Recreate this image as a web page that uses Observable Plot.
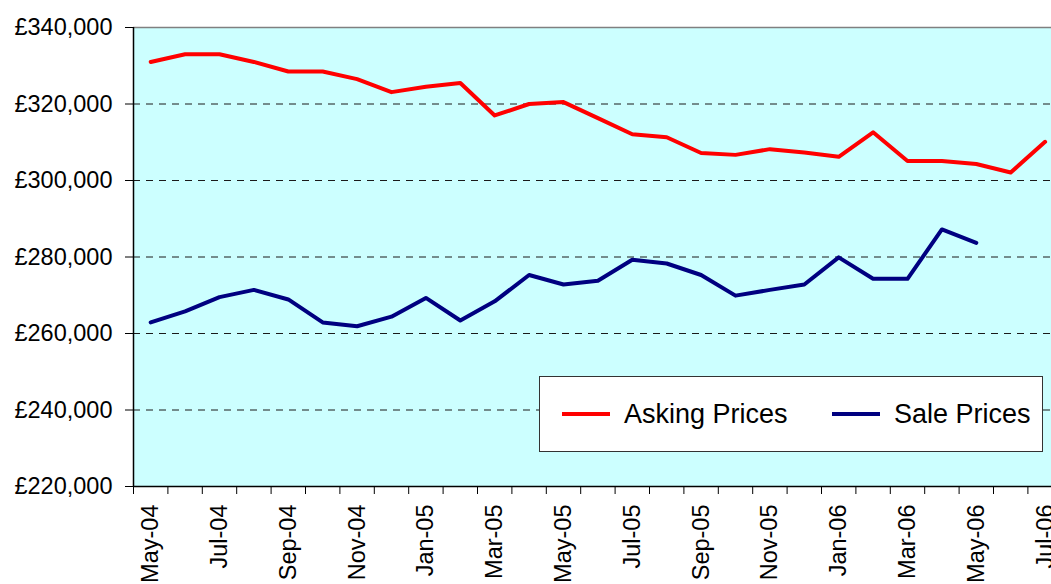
<!DOCTYPE html>
<html>
<head>
<meta charset="utf-8">
<script src="https://cdn.jsdelivr.net/npm/d3@7"></script>
<script src="https://cdn.jsdelivr.net/npm/@observablehq/plot@0.6"></script>
<style>
  html, body { margin: 0; padding: 0; background: white; }
  #wrap { position: relative; width: 1051px; height: 584px; overflow: hidden; font-family: "Liberation Sans", Arial, sans-serif; }
  #legend { position: absolute; left: 539px; top: 376px; width: 504px; height: 76px; background: white; border: 1.5px solid #333; box-sizing: border-box; }
  .item { position: absolute; top: 0; height: 100%; display: flex; align-items: center; font-size: 27px; color: black; }
  .sw { display: inline-block; width: 48px; height: 4px; margin-right: 14px; }
</style>
</head>
<body>
<div id="wrap"></div>
<script>
const months = ["May-04","Jun-04","Jul-04","Aug-04","Sep-04","Oct-04","Nov-04","Dec-04","Jan-05","Feb-05","Mar-05","Apr-05","May-05","Jun-05","Jul-05","Aug-05","Sep-05","Oct-05","Nov-05","Dec-05","Jan-06","Feb-06","Mar-06","Apr-06","May-06","Jun-06","Jul-06"];
const askingPrices = [331000,333000,333000,331000,328500,328500,326500,323100,324500,325500,317000,320000,320500,316300,312100,311300,307200,306700,308200,307300,306200,312600,305100,305100,304300,302100,310100];
const salePrices = [262900,265800,269500,271400,268900,262900,261900,264400,269300,263400,268400,275300,272800,273800,279300,278300,275300,269900,271400,272800,279900,274300,274300,287200,283700,null,null];
const yTicks = [220000,240000,260000,280000,300000,320000,340000];
const seriesNames = ["Asking Prices","Sale Prices"];
const seriesColors = ["#FF0000","#000080"];

const idx = months.map((m, i) => i);
const fmt = d => "£" + d3.format(",")(d);

const chart = Plot.plot({
  width: 1051,
  height: 584,
  marginLeft: 133,
  marginRight: 0,
  marginTop: 27,
  marginBottom: 98,
  style: { fontFamily: "'Liberation Sans', Arial, sans-serif", fontSize: "23.5px", background: "white", color: "black" },
  x: { type: "linear", domain: [-0.5, months.length - 0.5], range: [133, 133 + 34.4 * months.length] },
  y: { domain: [yTicks[0], yTicks[yTicks.length - 1]] },
  marks: [
    Plot.frame({ fill: "#CCFFFF", stroke: null }),
    Plot.ruleY(yTicks.slice(1, -1), { stroke: "#1a1a1a", strokeDasharray: "7,6", strokeWidth: 1 }),
    Plot.ruleY([yTicks[yTicks.length - 1]], { stroke: "#808080", strokeWidth: 1.5 }),
    Plot.lineY(askingPrices, { x: idx, stroke: seriesColors[0], strokeWidth: 4 }),
    Plot.lineY(salePrices, { x: idx, stroke: seriesColors[1], strokeWidth: 4 }),
    Plot.ruleX([-0.5], { stroke: "black", strokeWidth: 1.5 }),
    Plot.ruleY([yTicks[0]], { stroke: "black", strokeWidth: 1.5 }),
    Plot.axisY({ ticks: yTicks, tickFormat: fmt, tickSize: 8, tickPadding: 13, label: null, fontSize: 23.5 }),
    Plot.axisX({ ticks: d3.range(-0.5, months.length + 0.5, 1), tickFormat: () => "", tickSize: 8, label: null }),
    Plot.axisX({ ticks: d3.range(0, months.length, 2), tickFormat: i => months[i], tickSize: 0, tickPadding: 18, tickRotate: -90, label: null, fontSize: 23.5 })
  ]
});
const wrap = document.getElementById("wrap");
wrap.appendChild(chart);

const legend = document.createElement("div");
legend.id = "legend";
const lefts = [22, 292];
seriesNames.forEach((name, i) => {
  const item = document.createElement("div");
  item.className = "item";
  item.style.left = lefts[i] + "px";
  const sw = document.createElement("span");
  sw.className = "sw";
  sw.style.background = seriesColors[i];
  item.appendChild(sw);
  item.appendChild(document.createTextNode(name));
  legend.appendChild(item);
});
wrap.appendChild(legend);
</script>
</body>
</html>
